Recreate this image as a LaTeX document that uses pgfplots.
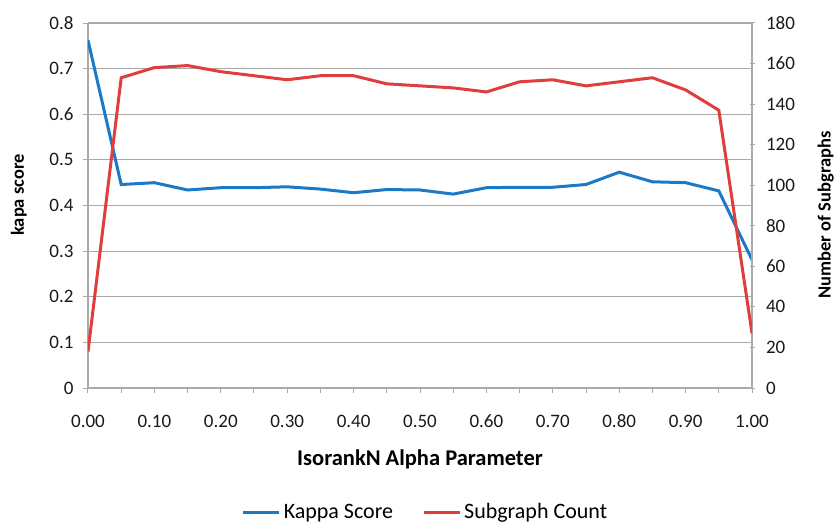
\documentclass[border=0pt]{standalone}
\usepackage{pgfplots}
\pgfplotsset{compat=1.18}
\usepackage{fontspec}
\setmainfont{Carlito}
\definecolor{kblue}{RGB}{26,122,200}
\definecolor{kred}{RGB}{224,62,62}
\definecolor{gridg}{RGB}{170,170,170}
\pgfplotstableread{
x kappa count
0.00 0.762 18
0.05 0.446 153
0.10 0.450 158
0.15 0.434 159
0.20 0.439 156
0.25 0.439 154
0.30 0.441 152
0.35 0.436 154
0.40 0.428 154
0.45 0.435 150
0.50 0.434 149
0.55 0.425 148
0.60 0.439 146
0.65 0.440 151
0.70 0.440 152
0.75 0.446 149
0.80 0.473 151
0.85 0.452 153
0.90 0.450 147
0.95 0.432 137
1.00 0.281 27
}\datatable
\begin{document}
\begin{tikzpicture}[x=1pt,y=1pt]
\path[use as bounding box] (-88,-135) rectangle (751,388);
\pgfplotsset{
  every axis/.append style={
    scale only axis, width=664pt, height=365pt,
    at={(0,0)}, anchor=south west,
    xmin=0, xmax=1,
    font=\fontsize{19}{22}\selectfont,
    /pgf/number format/assume math mode=true,
    tick style={gridg, line width=1pt},
    major tick length=5pt,
    axis line style={gridg, line width=1.2pt},
    ticklabel style={text=black!90},
    ylabel style={font=\fontsize{18.5}{21}\selectfont\bfseries},
  }
}
\begin{axis}[
  axis x line*=bottom, axis y line*=left,
  ymin=0, ymax=0.8,
  ytick={0,0.1,...,0.8},
  yticklabel={\ifdim\tick pt=0pt 0\else\pgfmathprintnumber[fixed,precision=1,fixed zerofill]{\tick}\fi},
  xtick={0,0.1,...,1.01},
  minor xtick={0.05,0.15,...,0.96},
  minor tick length=5pt,
  xticklabel={\pgfmathprintnumber[fixed,precision=2,fixed zerofill]{\tick}},
  xtick align=outside, ytick align=outside,
  ymajorgrids, grid style={gridg, line width=1.2pt},
  xlabel={\bfseries IsorankN Alpha Parameter},
  ylabel={kapa score},
  xlabel style={at={(axis description cs:0.5,-0.195)}, anchor=center, font=\fontsize{22.5}{26}\selectfont},
  ylabel style={at={(axis description cs:-0.104,0.529)}, anchor=center},
  xticklabel style={anchor=center, yshift=-28pt},
  yticklabel style={xshift=-6pt},
  legend style={at={(axis description cs:0.5075,-0.34)}, anchor=center, draw=none, legend columns=2, font=\fontsize{22}{26}\selectfont, nodes={inner xsep=1pt}, /tikz/every even column/.append style={column sep=28pt}, /tikz/every odd column/.append style={column sep=2pt}},
  legend image code/.code={\draw[#1, line width=3pt] (0pt,0pt) -- (36pt,0pt);},
]
\addplot[kblue, line width=3pt] table[x=x, y=kappa] {\datatable};
\addlegendentry{Kappa Score}
\addlegendimage{kred, line width=3pt}
\addlegendentry{Subgraph Count}
\end{axis}
\begin{axis}[
  axis x line=none, axis y line*=right,
  ymin=0, ymax=180,
  ytick={0,20,...,180},
  ytick align=center,
  ylabel={Number of Subgraphs},
  ylabel style={at={(axis description cs:1.111,0.474)}, anchor=center},
  yticklabel style={xshift=8pt},
]
\addplot[kred, line width=3pt] table[x=x, y=count] {\datatable};
\end{axis}
\end{tikzpicture}
\end{document}
